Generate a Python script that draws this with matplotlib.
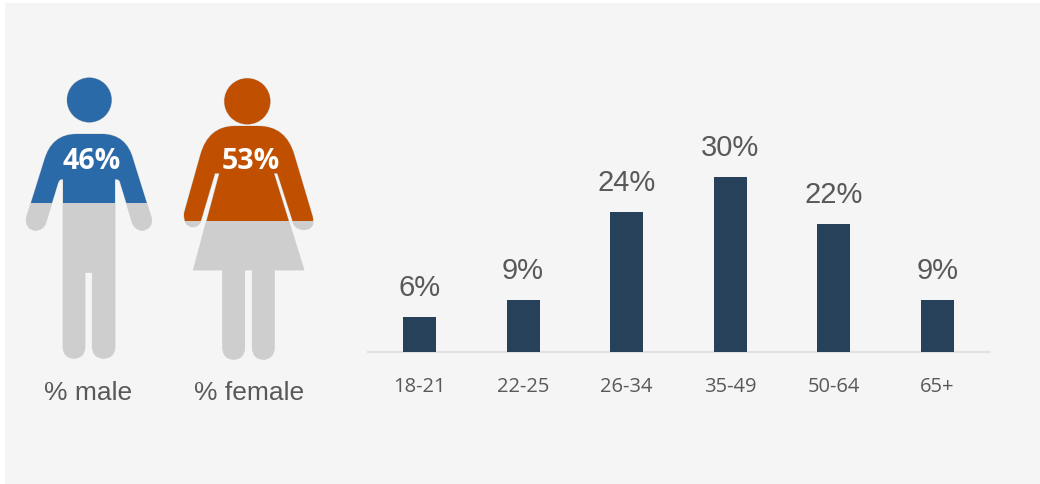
import matplotlib
matplotlib.use("Agg")
import matplotlib.pyplot as plt
from matplotlib.path import Path
from matplotlib.patches import PathPatch, Circle, Rectangle

age_groups = ["18-21", "22-25", "26-34", "35-49", "50-64", "65+"]
age_share = [6, 9, 24, 30, 22, 9]
male_share = 46
female_share = 53

W, H = 1040, 484
PANEL = "#f5f5f5"
GREY = "#cecece"
BLUE = "#2a6aa8"
ORANGE = "#c05000"
NAVY = "#264159"
TEXT = "#595959"

fig = plt.figure(figsize=(W / 100, H / 100), dpi=100, facecolor="white")
canvas = fig.add_axes([0, 0, 1, 1])
canvas.set_xlim(0, W)
canvas.set_ylim(H, 0)
canvas.axis("off")
canvas.add_patch(Rectangle((5, 3), W - 5, H - 3, fc=PANEL, ec="none", zorder=0))

M, L, Q, Z = Path.MOVETO, Path.LINETO, Path.CURVE3, Path.CLOSEPOLY


def outline(steps, ox, oy):
    """Build a path from (code, x, y) steps given at triple scale around an origin."""
    verts = [(ox + x / 3, oy + y / 3) for _, x, y in steps]
    return Path(verts, [c for c, _, _ in steps])


male_body = [
    (M, 200, 222), (L, 275, 222), (Q, 350, 222), (Q, 370, 300),
    (L, 424, 473), (Q, 430, 505), (Q, 398, 511), (Q, 372, 510), (Q, 366, 485),
    (L, 331, 370), (Q, 329, 358), (Q, 320, 358), (L, 315, 358),
    (L, 315, 862), (Q, 313, 894), (Q, 281, 895), (Q, 249, 894), (Q, 247, 862),
    (L, 247, 637), (L, 225, 637),
    (L, 225, 862), (Q, 223, 894), (Q, 192, 895), (Q, 161, 894), (Q, 159, 862),
    (L, 159, 358), (L, 155, 358), (Q, 147, 358), (Q, 144, 370),
    (L, 107, 490), (Q, 100, 510), (Q, 76, 511), (Q, 46, 508), (Q, 49, 473),
    (L, 103, 300), (Q, 125, 222), (Q, 200, 222), (Z, 200, 222),
]

female_body = [
    (M, 195, 198), (L, 265, 198), (Q, 348, 198), (Q, 373, 285),
    (L, 428, 470), (Q, 436, 507), (Q, 402, 509), (Q, 378, 508), (Q, 370, 490),
    (L, 322, 340), (L, 312, 340), (L, 402, 630), (L, 313, 630),
    (L, 313, 865), (Q, 311, 897), (Q, 280, 898), (Q, 249, 897), (Q, 247, 865),
    (L, 247, 630), (L, 224, 630),
    (L, 224, 865), (Q, 222, 897), (Q, 191, 898), (Q, 160, 897), (Q, 158, 865),
    (L, 158, 630), (L, 70, 630), (L, 148, 340), (L, 135, 340),
    (L, 92, 485), (Q, 85, 500), (Q, 68, 501), (Q, 40, 498), (Q, 42, 460),
    (L, 91, 285), (Q, 115, 198), (Q, 195, 198), (Z, 195, 198),
]

# Vertical scale of the pictogram fill: screen row of 0 % and pixels per percent
FILL_ZERO = 85
FILL_STEP = 2.57


def figure_icon(steps, ox, oy, head, share, colour):
    body = outline(steps, ox, oy)
    level = FILL_ZERO + FILL_STEP * share
    clip = Rectangle((0, 0), W, level, transform=canvas.transData)
    canvas.add_patch(PathPatch(body, fc=GREY, ec=GREY, lw=0.6, zorder=2))
    canvas.add_patch(Circle(head[:2], head[2], fc=GREY, ec=GREY, lw=0.6, zorder=2))
    top = canvas.add_patch(PathPatch(body, fc=colour, ec="none", zorder=3))
    top.set_clip_path(clip)
    crown = canvas.add_patch(Circle(head[:2], head[2], fc=colour, ec="none", zorder=3))
    crown.set_clip_path(clip)


figure_icon(male_body, 10, 60, (89.3, 100, 22.3), male_share, BLUE)
figure_icon(female_body, 170, 60, (247.3, 101.3, 23), female_share, ORANGE)

canvas.text(91.5, 161.5, f"{male_share}%", color="white", fontsize=20.5, fontweight="bold",
            family="Open Sans", ha="center", va="center", zorder=5)
canvas.text(250.5, 161.5, f"{female_share}%", color="white", fontsize=20.5, fontweight="bold",
            family="Open Sans", ha="center", va="center", zorder=5)
canvas.text(88, 393, "% male", color=TEXT, fontsize=19, family="Liberation Sans",
            ha="center", va="center", zorder=5)
canvas.text(249.5, 393, "% female", color=TEXT, fontsize=19, family="Liberation Sans",
            ha="center", va="center", zorder=5)

# Age distribution: axes spans the baseline width, 5.83 px per percentage point
left, right, base, top_row = 368, 989, 352, 152
ax = fig.add_axes([left / W, 1 - base / H, (right - left) / W, (base - top_row) / H])
ax.patch.set_alpha(0)
ax.set_ylim(0, (base - top_row) / 5.83)
pos = list(range(len(age_groups)))
step = 103.6
ax.set_xlim((left - 419.5) / step, (right - 419.5) / step)
ax.bar(pos, age_share, width=33 / step, color=NAVY, zorder=3)
for x, v in zip(pos, age_share):
    ax.annotate(f"{v}%", (x, v), xytext=(0, 15), textcoords="offset pixels",
                ha="center", va="bottom", fontsize=21, color=TEXT, family="Liberation Sans")
for side in ("top", "left", "right"):
    ax.spines[side].set_visible(False)
ax.spines["bottom"].set_color("#e2e2e2")
ax.spines["bottom"].set_linewidth(1.6)
ax.set_yticks([])
ax.set_xticks(pos, age_groups)
ax.tick_params(axis="x", length=0, pad=18, labelsize=14.5, labelcolor=TEXT)
for t in ax.get_xticklabels():
    t.set_family("Open Sans")

fig.savefig("out.png", dpi=100, facecolor="white")
